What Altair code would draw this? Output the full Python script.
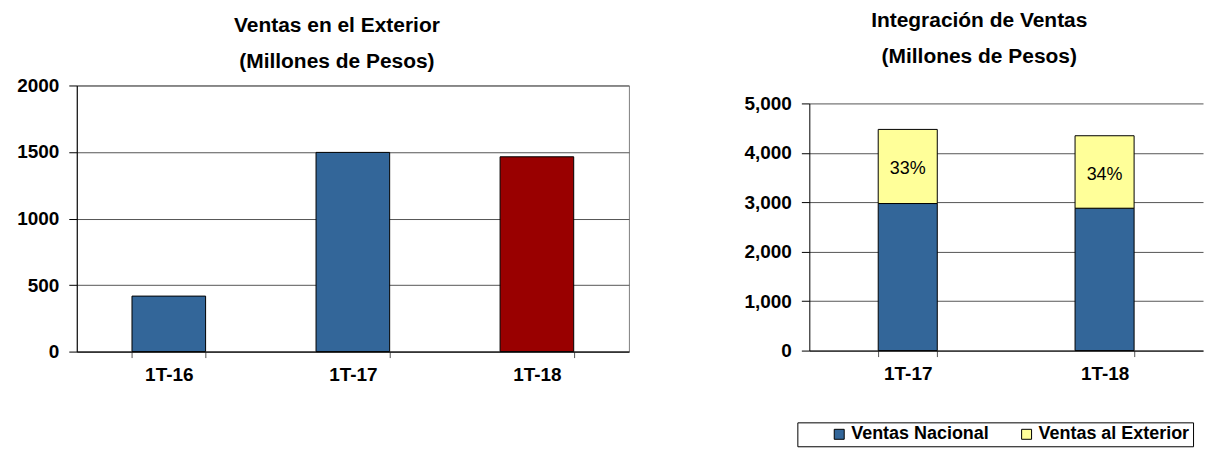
import altair as alt
import pandas as pd

FONT = "Liberation Sans"

# ---- Left chart data: Ventas en el Exterior ----
periodos_ext = ["1T-16", "1T-17", "1T-18"]
ventas_exterior_hist = [417, 1497, 1464]
colores_barras = ["#336699", "#336699", "#990000"]
ticks_izq = [0, 500, 1000, 1500, 2000]

# ---- Right chart data: Integración de Ventas ----
periodos_int = ["1T-17", "1T-18"]
ventas_nacional = [2975, 2880]
ventas_exterior = [1499, 1466]
etiquetas_pct = ["33%", "34%"]
series = ["Ventas Nacional", "Ventas al Exterior"]
colores_series = ["#336699", "#FFFF99"]
ticks_der = [0, 1000, 2000, 3000, 4000, 5000]

titulo_izq = ["Ventas en el Exterior", "(Millones de Pesos)"]
titulo_der = ["Integración de Ventas", "(Millones de Pesos)"]

H_LEFT = 267
H_RIGHT = 266
TOP_GAP_RIGHT = 18  # right plot starts lower than the left one


def x_axis():
    return alt.Axis(labelAngle=0, tickBand="extent", tickSize=6, tickColor="#555555",
                    labelPadding=8, labelFontSize=19, labelFont=FONT,
                    labelFontWeight="bold", labelColor="black",
                    domainColor="black", domainWidth=1, grid=False)


def y_axis(values, fmt):
    return alt.Axis(values=values, format=fmt, tickSize=8, tickColor="black",
                    labelPadding=10, labelFontSize=19, labelFont=FONT,
                    labelFontWeight="bold", labelColor="black",
                    domainColor="black", domainWidth=1,
                    grid=True, gridColor="#555555", gridWidth=1)


def titulo(lines, dx, offset):
    return alt.TitleParams(text=lines, fontSize=21, font=FONT, fontWeight="bold",
                           color="black", lineHeight=36, anchor="middle",
                           dx=dx, offset=offset)


# Left chart
df_left = pd.DataFrame({"Periodo": periodos_ext, "Ventas": ventas_exterior_hist})
left = alt.Chart(df_left).mark_bar(stroke="black", strokeWidth=1).encode(
    x=alt.X("Periodo:N", sort=periodos_ext, title=None,
            scale=alt.Scale(paddingInner=0.6, paddingOuter=0.3), axis=x_axis()),
    y=alt.Y("Ventas:Q", title=None, scale=alt.Scale(domain=[0, 2000], nice=False),
            axis=y_axis(ticks_izq, "d")),
    color=alt.Color("Periodo:N", scale=alt.Scale(domain=periodos_ext, range=colores_barras),
                    legend=None),
).properties(
    width=554, height=H_LEFT,
    title=titulo(titulo_izq, -16, 5),
    view=alt.ViewBackground(stroke="#808080", strokeWidth=1),
)

# Right chart
rows = []
for p, n, e in zip(periodos_int, ventas_nacional, ventas_exterior):
    rows.append({"Periodo": p, "Serie": series[0], "Valor": n, "Orden": 0})
    rows.append({"Periodo": p, "Serie": series[1], "Valor": e, "Orden": 1})
df_right = pd.DataFrame(rows)

x_right = alt.X("Periodo:N", sort=periodos_int, title=None,
                scale=alt.Scale(paddingInner=0.7, paddingOuter=0.35), axis=x_axis())
y_scale_right = alt.Scale(domain=[0, 5000], nice=False, range=[H_RIGHT, TOP_GAP_RIGHT])

bars = alt.Chart(df_right).mark_bar(stroke="black", strokeWidth=1).encode(
    x=x_right,
    y=alt.Y("Valor:Q", title=None, stack="zero", scale=y_scale_right,
            axis=y_axis(ticks_der, ",d")),
    color=alt.Color("Serie:N", scale=alt.Scale(domain=series, range=colores_series),
                    legend=alt.Legend(
                        title=" ", titleOrient="left", titlePadding=30, titleFontSize=1,
                        orient="none", legendX=-12, legendY=338, direction="horizontal",
                        symbolType="square", symbolSize=100, symbolStrokeColor="black",
                        symbolStrokeWidth=1, labelFont=FONT, labelFontSize=18,
                        labelFontWeight="bold", labelColor="black", labelOffset=3,
                        columnPadding=28, padding=3, strokeColor="black",
                        fillColor="white", labelLimit=0)),
    order=alt.Order("Orden:Q"),
)

df_lab = pd.DataFrame({"Periodo": periodos_int, "Nacional": ventas_nacional,
                       "Exterior": ventas_exterior, "Etiqueta": etiquetas_pct})
labels = alt.Chart(df_lab).transform_calculate(
    mid="datum.Nacional + datum.Exterior / 2"
).mark_text(fontSize=18, font=FONT, color="black", baseline="middle", align="center",
            dy=3).encode(
    x=x_right,
    y=alt.Y("mid:Q", scale=y_scale_right),
    text="Etiqueta:N",
)

right = alt.layer(bars, labels).properties(
    width=395, height=H_RIGHT,
    title=titulo(titulo_der, -27, 19),
    view=alt.ViewBackground(stroke="transparent"),
)

chart = alt.concat(left, right, columns=2, spacing=113, align="none").resolve_scale(
    color="independent"
).properties(
    padding={"left": 8, "top": 0, "right": 0, "bottom": 0},
    background="white",
)

chart.save("out.html", embed_options={"renderer": "svg", "actions": False})
